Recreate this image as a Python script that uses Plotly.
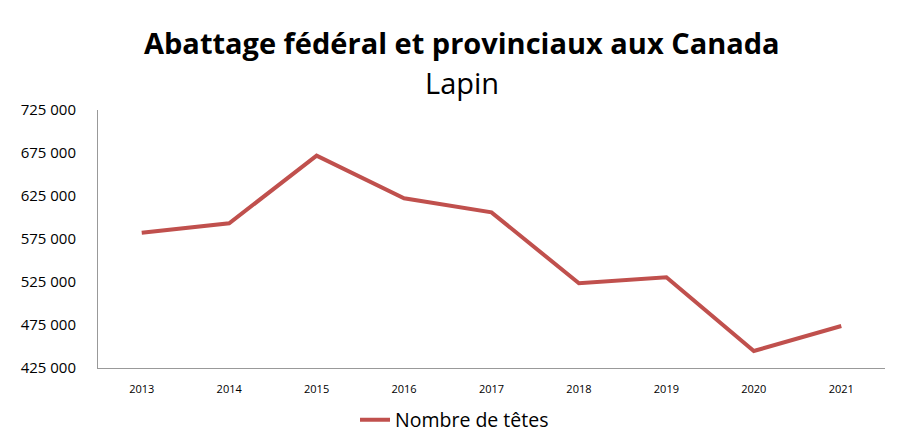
import plotly.graph_objects as go

# Abattage de lapins, nombre de têtes
annees = ['2013', '2014', '2015', '2016', '2017', '2018', '2019', '2020', '2021']
tetes = [582300, 593200, 671900, 622300, 606000, 523500, 530500, 444800, 473800]
y_ticks = [425000, 475000, 525000, 575000, 625000, 675000, 725000]

fig = go.Figure()
fig.add_trace(go.Scatter(
    x=annees, y=tetes, mode='lines', name='Nombre de têtes',
    line=dict(color='#C0504D', width=4)
))

# the page body adds an 8px margin, so the figure is drawn 8px smaller
W, H = 892, 437
top, bottom = 102, 77
h_plot = H - top - bottom


def py(pix):
    # pixel row in the window -> paper y
    return (H - bottom - (pix - 8)) / h_plot


fig.update_layout(
    width=W, height=H,
    paper_bgcolor='white', plot_bgcolor='white',
    margin=dict(l=90, r=15, t=top, b=bottom, autoexpand=False),
    separators=', ',
    font=dict(family='Open Sans', color='black'),
    showlegend=True,
    legend=dict(orientation='h', x=0.453, xanchor='center', yref='container',
                y=1 - (420 - 8) / H, yanchor='middle', font=dict(size=19.5)),
    annotations=[
        dict(text='<b>Abattage fédéral et provinciaux aux Canada</b>', x=0.462, y=py(42),
             xref='paper', yref='paper', yanchor='middle', showarrow=False,
             font=dict(size=29)),
        dict(text='Lapin', x=0.462, y=py(82), xref='paper', yref='paper',
             yanchor='middle', showarrow=False, font=dict(size=29)),
    ],
)

fig.update_xaxes(showline=True, linecolor='#999999', linewidth=1, showgrid=False,
                 range=[-0.5, 8.5], ticks='', tickfont=dict(size=11),
                 ticklabelstandoff=11)
fig.update_yaxes(range=[425000, 725000], tickvals=y_ticks, tickformat=',d',
                 showline=True, linecolor='#999999', linewidth=1, showgrid=False,
                 zeroline=False, ticks='', tickfont=dict(size=15), ticklabelstandoff=18)

fig.write_html('out.html')
